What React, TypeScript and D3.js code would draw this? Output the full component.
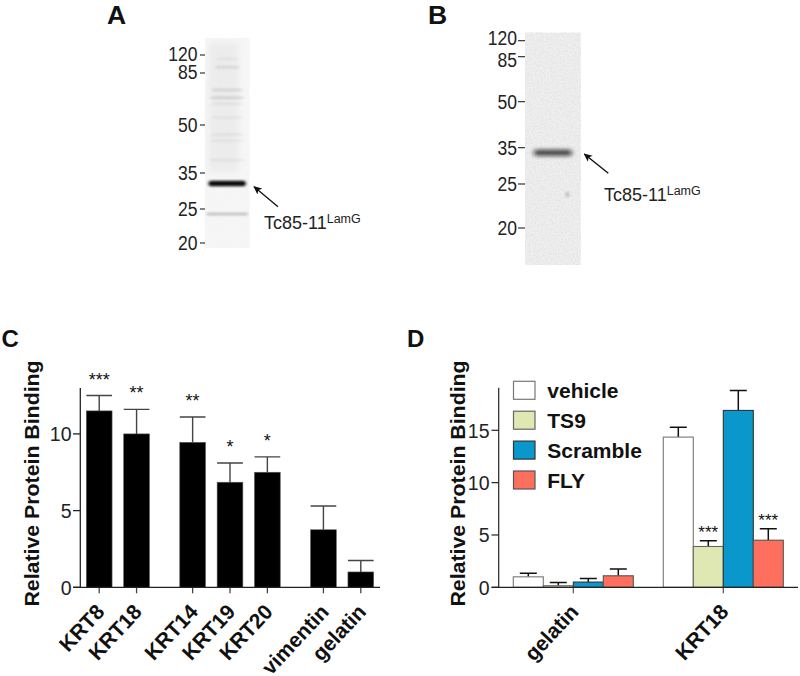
import React from "react";
import * as d3 from "d3";

const FONT = "'Liberation Sans', Arial, sans-serif";

// Panel C
const cCategories = ["KRT8", "KRT18", "KRT14", "KRT19", "KRT20", "vimentin", "gelatin"];
const cValues = [11.5, 10.0, 9.45, 6.85, 7.5, 3.75, 1.0];
const cErrTops = [12.5, 11.6, 11.1, 8.1, 8.5, 5.3, 1.75];
const cStars = ["***", "**", "**", "*", "*", "", ""];
const cGroupSlots = [0, 1, 2.5, 3.5, 4.5, 6, 7];
const cTicks = [0, 5, 10];

// Panel D
const dGroups = ["gelatin", "KRT18"];
const dSeries = ["vehicle", "TS9", "Scramble", "FLY"];
const dColors = ["#ffffff", "#dfe8b2", "#0a97cb", "#ff6f5e"];
const dStrokes = ["#777777", "#666666", "#333333", "#555555"];
const dValues = [
  [1.0, 0.15, 0.5, 1.1],
  [14.35, 3.9, 16.9, 4.5],
];
const dErrTops = [
  [1.35, 0.45, 0.85, 1.75],
  [15.3, 4.45, 18.8, 5.6],
];
const dStars = [
  ["", "", "", ""],
  ["", "***", "", "***"],
];
const dTicks = [0, 5, 10, 15];

// Blots
const markers = [120, 85, 50, 35, 25, 20];
const aLabelShift = [-1.5, -1.5, 0, 0, 0, 0];
const bLabelShift = [-3, 3, 0, 0, 0, 0];
const aBands = [
  { kda: 111, o: 0.05, w: 0.5 }, { kda: 95, o: 0.1, w: 0.55 }, { kda: 71.5, o: 0.11, w: 0.7 },
  { kda: 66, o: 0.13, w: 0.75 }, { kda: 62, o: 0.06, w: 0.7 }, { kda: 54, o: 0.05, w: 0.7 },
  { kda: 46.5, o: 0.06, w: 0.75 }, { kda: 44.5, o: 0.05, w: 0.75 }, { kda: 38.5, o: 0.06, w: 0.8 },
  { kda: 31.7, o: 1, w: 0.84 }, { kda: 24.2, o: 0.24, w: 0.95 },
];
const bBands = [{ kda: 33.4, o: 0.85, w: 0.68 }];

const W = 800, H = 676;
const base = 587.3;
const cY = d3.scaleLinear().domain([0, 13]).range([base, 387.9]);
const cX = d3.scaleLinear().domain([0, 7]).range([99.2, 360.8]);
const dY = d3.scaleLinear().domain([0, 15]).range([base, 430.3]);
const dX = d3.scaleLinear().domain([0, 1]).range([513.3, 543.3]);
const aY = d3.scaleLog().domain(markers).range([55, 73, 125, 173, 209, 243]);
const bY = d3.scaleLog().domain(markers).range([40.7, 56.7, 101.7, 147.7, 184, 228]);

function Blot({ x, y, w, h, scale, bands, bg, filter, tick, labelEnd, noise, bandH, smear, spot, shifts }: any) {
  return (
    <g>
      <rect x={x} y={y} width={w} height={h} fill={bg} filter={noise} />
      {smear && <rect x={x + w * 0.08} y={y + 4} width={w * 0.68} height={h * 0.62} fill="#000" opacity={0.035} filter="url(#blurL)" />}
      {spot && <ellipse cx={x + w * 0.76} cy={scale(spot)} rx={2} ry={3} fill="#000" opacity={0.18} filter="url(#blurS)" />}
      {bands.map((b: any, i: number) => (
        <rect key={i} x={x + w * (1 - b.w) / 2} width={w * b.w} y={scale(b.kda) - (b.o > 0.5 ? bandH / 2 : 1.2)}
          height={b.o > 0.5 ? bandH : 2.4} rx={2.5} fill="#111" opacity={b.o} filter={filter} />
      ))}
      {markers.map((m, i) => (
        <g key={m}>
          <line x1={x - tick} x2={x} y1={scale(m)} y2={scale(m)} stroke="#222" strokeWidth={1.1} />
          <text transform={`translate(${labelEnd},${scale(m) + 7 + shifts[i]}) scale(0.9,1)`} textAnchor="end" fontSize={19.5} fill="#222">{m}</text>
        </g>
      ))}
    </g>
  );
}

function Arrow({ x1, y1, x2, y2 }: any) {
  return <line x1={x1} y1={y1} x2={x2} y2={y2} stroke="#111" strokeWidth={1.4} markerEnd="url(#head)" />;
}

function Tc({ x, y }: any) {
  return (
    <text x={x} y={y} fontSize={18} fill="#222">
      Tc85-11<tspan dy={-6.5} fontSize={12.5}>LamG</tspan>
    </text>
  );
}

function Title({ x }: { x: number }) {
  return (
    <text transform={`translate(${x},483.5) rotate(-90) scale(1.05,1)`} textAnchor="middle" fontWeight="bold" fontSize={20.3} fill="#111">
      Relative Protein Binding
    </text>
  );
}

function Cat({ x, label }: { x: number; label: string }) {
  return (
    <text transform={`translate(${x + 6.5},${base + 25.5}) rotate(-47)`} textAnchor="end" fontWeight="bold" fontSize={21} fill="#111">{label}</text>
  );
}

function Tick({ x, y, label }: any) {
  return <text transform={`translate(${x},${y}) scale(0.93,1)`} textAnchor="end" fontSize={21} fill="#222">{label}</text>;
}

export default function App() {
  const cW = 25.7;
  const dW = 30;
  return (
    <svg width={W} height={H} viewBox={`0 0 ${W} ${H}`} fontFamily={FONT}
      style={{ position: "absolute", left: 0, top: 0, background: "#fff" }}>
      <defs>
        <marker id="head" viewBox="0 0 10 10" refX="9" refY="5" markerWidth="8.5" markerHeight="8.5" orient="auto-start-reverse" markerUnits="userSpaceOnUse">
          <path d="M0,0.5 L10,5 L0,9.5 L2.5,5 Z" fill="#111" />
        </marker>
        <filter id="blurS" x="-20%" y="-400%" width="140%" height="900%"><feGaussianBlur stdDeviation="1.4 1.3" /></filter>
        <filter id="blurB" x="-20%" y="-400%" width="140%" height="900%"><feGaussianBlur stdDeviation="2.4 2" /></filter>
        <filter id="blurL" x="-30%" y="-30%" width="160%" height="160%"><feGaussianBlur stdDeviation="3" /></filter>
        <filter id="noiseA" x="0" y="0" width="100%" height="100%">
          <feTurbulence type="fractalNoise" baseFrequency="0.35" numOctaves="2" seed="3" result="n" />
          <feColorMatrix in="n" values="0 0 0 0 0.88  0 0 0 0 0.88  0 0 0 0 0.88  0.5 0 0 0 -0.14" result="m" />
          <feMerge><feMergeNode in="SourceGraphic" /><feMergeNode in="m" /></feMerge>
        </filter>
        <filter id="noiseB" x="0" y="0" width="100%" height="100%">
          <feTurbulence type="fractalNoise" baseFrequency="0.65" numOctaves="2" seed="8" result="n" />
          <feColorMatrix in="n" values="0 0 0 0 0.72  0 0 0 0 0.72  0 0 0 0 0.72  1.5 0 0 0 -0.5" result="m" />
          <feGaussianBlur in="m" stdDeviation="0.5" result="s" />
          <feMerge><feMergeNode in="SourceGraphic" /><feMergeNode in="s" /></feMerge>
        </filter>
      </defs>

      {/* A */}
      <text x={107} y={24} fontSize={26.5} fontWeight="bold" fill="#111">A</text>
      <Blot x={205} y={38} w={44.3} h={210} scale={aY} bands={aBands} bg="#f6f6f6" filter="url(#blurS)" tick={5} labelEnd={197.5} noise="url(#noiseA)" bandH={5.5} smear shifts={aLabelShift} />
      <Arrow x1={278} y1={206.7} x2={254} y2={186.7} />
      <Tc x={264} y={229} />

      {/* B */}
      <text x={428} y={24} fontSize={26.5} fontWeight="bold" fill="#111">B</text>
      <Blot x={525} y={32.7} w={55.7} h={232.3} scale={bY} bands={bBands} bg="#f0f0f0" filter="url(#blurB)" tick={7} labelEnd={517} noise="url(#noiseB)" bandH={5.5} spot={23.7} shifts={bLabelShift} />
      <Arrow x1={608.3} y1={173.3} x2={584.3} y2={154} />
      <Tc x={604} y={201} />

      {/* C */}
      <text x={1.5} y={347} fontSize={24} fontWeight="bold" fill="#111">C</text>
      <Title x={39} />
      {cCategories.map((c, i) => {
        const cx = cX(cGroupSlots[i]);
        return (
          <g key={c}>
            <rect x={cx - cW / 2} y={cY(cValues[i])} width={cW} height={base - cY(cValues[i])} fill="#000" stroke="#555" strokeWidth={0.6} />
            <path d={`M${cx},${cY(cValues[i])}V${cY(cErrTops[i])}M${cx - cW / 2},${cY(cErrTops[i])}H${cx + cW / 2}`} fill="none" stroke="#444" strokeWidth={1.4} />
            <text x={cx} y={cY(cErrTops[i]) - 10} textAnchor="middle" fontSize={18} fill="#111">{cStars[i]}</text>
            <line x1={cx} x2={cx} y1={base} y2={base + 6} stroke="#444" strokeWidth={1.3} />
            <Cat x={cx} label={c} />
          </g>
        );
      })}
      <line x1={80.3} x2={80.3} y1={cY(13)} y2={base} stroke="#222" strokeWidth={1.3} />
      <line x1={73} x2={380} y1={base} y2={base} stroke="#222" strokeWidth={1.3} />
      {cTicks.map((t) => (
        <g key={t}>
          <line x1={73} x2={80.3} y1={cY(t)} y2={cY(t)} stroke="#222" strokeWidth={1.3} />
          <Tick x={71.5} y={cY(t) + 7.5} label={t} />
        </g>
      ))}

      {/* D */}
      <text x={407} y={347} fontSize={24} fontWeight="bold" fill="#111">D</text>
      <Title x={465} />
      {dGroups.map((g, gi) => (
        <g key={g}>
          {dSeries.map((s, si) => {
            const left = dX(gi * 5 + si);
            const cx = left + dW / 2;
            const v = dValues[gi][si], e = dErrTops[gi][si];
            return (
              <g key={s}>
                <path d={`M${cx},${dY(v)}V${dY(e)}M${cx - 8.5},${dY(e)}H${cx + 8.5}`} fill="none" stroke="#111" strokeWidth={1.5} />
                <rect x={left} y={dY(v)} width={dW} height={base - dY(v)} fill={dColors[si]} stroke={dStrokes[si]} strokeWidth={1.1} />
                <text x={cx} y={dY(e) - 3} textAnchor="middle" fontSize={17} fill="#111">{dStars[gi][si]}</text>
              </g>
            );
          })}
          <line x1={dX(gi * 5 + 2)} x2={dX(gi * 5 + 2)} y1={base} y2={base + 6} stroke="#555" strokeWidth={1.2} />
          <Cat x={dX(gi * 5 + 2)} label={g} />
        </g>
      ))}
      <line x1={498.7} x2={498.7} y1={387.7} y2={base} stroke="#222" strokeWidth={1.2} />
      <line x1={491.5} x2={798} y1={base} y2={base} stroke="#222" strokeWidth={1.2} />
      {dTicks.map((t) => (
        <g key={t}>
          <line x1={491.5} x2={498.7} y1={dY(t)} y2={dY(t)} stroke="#222" strokeWidth={1.2} />
          <Tick x={489.5} y={dY(t) + 7.5} label={t} />
        </g>
      ))}
      {dSeries.map((s, i) => (
        <g key={s}>
          <rect x={513.5} y={381.3 + i * 29.9} width={21.5} height={18} fill={dColors[i]} stroke={dStrokes[i]} strokeWidth={1.2} />
          <text x={547.3} y={398 + i * 29.9} fontWeight="bold" fontSize={21} fill="#111">{s}</text>
        </g>
      ))}
    </svg>
  );
}
